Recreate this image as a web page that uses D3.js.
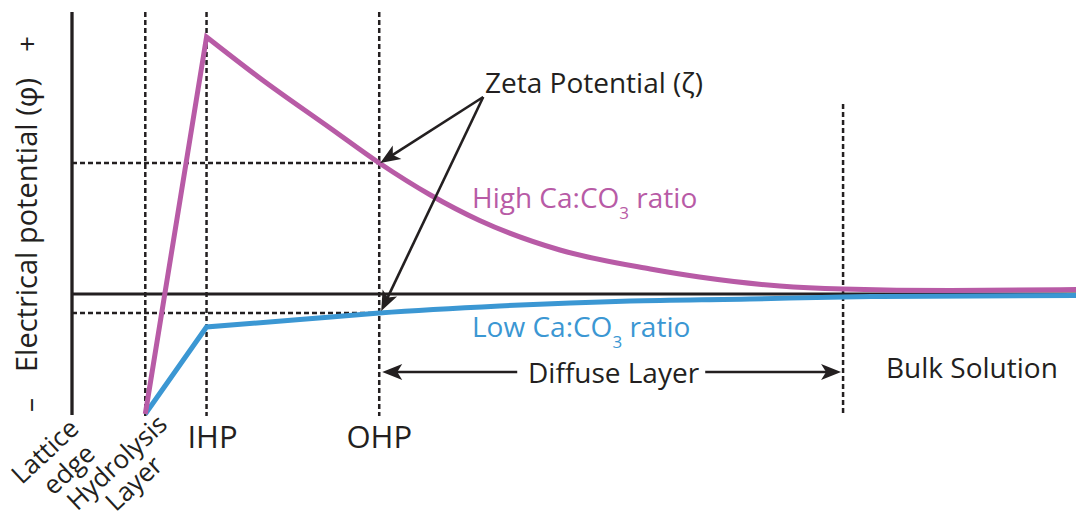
<!DOCTYPE html>
<html>
<head>
<meta charset="utf-8">
<script src="https://cdn.jsdelivr.net/npm/d3@7/dist/d3.min.js"></script>
<style>
  html, body { margin: 0; padding: 0; background: #ffffff; }
  svg { display: block; }
  text { font-family: "Open Sans", "Noto Sans", sans-serif; fill: #231f20; }
</style>
</head>
<body>
<div id="chart"></div>
<script>
// Distance from the crystal surface (arbitrary units) of each layer boundary
const layerNames = ["Lattice edge", "Hydrolysis Layer", "IHP", "OHP", "Diffuse edge"];
const layerPos = [0, 0.73, 1.34, 3.06, 7.68];

// Potential profile, high Ca:CO3 ratio
const highDist = [0.73, 1.34, 1.87, 2.57, 3.06, 3.57, 4.06, 4.86, 5.76, 6.25, 7.05, 7.68, 8.75, 10.0];
const highPot  = [-1.20, 2.57, 2.16, 1.66, 1.31, 0.99, 0.735, 0.44, 0.25, 0.17, 0.08, 0.05, 0.035, 0.045];

// Potential profile, low Ca:CO3 ratio
const lowDist = [0.73, 1.34, 2.27, 3.06, 4.26, 5.56, 6.75, 7.68, 8.05, 10.0];
const lowPot  = [-1.20, -0.33, -0.255, -0.19, -0.12, -0.07, -0.05, -0.03, -0.025, -0.015];

// Zeta potentials read at the OHP
const zetaHigh = 1.31;
const zetaLow = -0.19;

const W = 1076, H = 518;
const INK = "#231f20", MAGENTA = "#b85ba6", BLUE = "#3b97d3";

const x = d3.scaleLinear().domain([0, 10]).range([72, 1076]);
const y = d3.scaleLinear().domain([-1.2, 2.82]).range([414, 12]);

const svg = d3.select("#chart").append("svg")
  .attr("width", W).attr("height", H);

// Dashed guides: layer boundaries
const guideTop = [null, 2.82, 2.82, 2.82, 1.9];
layerPos.forEach((p, i) => {
  if (i === 0) return;
  svg.append("line")
    .attr("x1", x(p)).attr("x2", x(p))
    .attr("y1", y(guideTop[i])).attr("y2", y(-1.2) + 2)
    .attr("stroke", INK).attr("stroke-width", 2.5)
    .attr("stroke-dasharray", "5,3");
});

// Dashed guides: zeta potential levels
[zetaHigh, zetaLow].forEach(v => {
  svg.append("line")
    .attr("x1", x(0)).attr("x2", x(layerPos[3]))
    .attr("y1", y(v)).attr("y2", y(v))
    .attr("stroke", INK).attr("stroke-width", 2.5)
    .attr("stroke-dasharray", "5,3");
});

// Potential axis and zero line
svg.append("line")
  .attr("x1", x(0)).attr("x2", x(0))
  .attr("y1", y(2.82)).attr("y2", y(-1.2) + 1)
  .attr("stroke", INK).attr("stroke-width", 3.3);
svg.append("line")
  .attr("x1", x(0)).attr("x2", x(10))
  .attr("y1", y(0)).attr("y2", y(0))
  .attr("stroke", INK).attr("stroke-width", 3);

// Profiles: straight ramp up to the IHP, smooth decay afterwards
const straight = d3.line().x(d => x(d[0])).y(d => y(d[1]));
const smooth = d3.line().x(d => x(d[0])).y(d => y(d[1])).curve(d3.curveMonotoneX);

function profilePath(dist, pot) {
  const pts = dist.map((d, i) => [d, pot[i]]);
  return straight(pts.slice(0, 2)) + smooth(pts.slice(1)).replace(/^M/, "L");
}

svg.append("path")
  .attr("d", profilePath(lowDist, lowPot))
  .attr("fill", "none").attr("stroke", BLUE).attr("stroke-width", 5)
  .attr("stroke-linejoin", "miter");
svg.append("path")
  .attr("d", profilePath(highDist, highPot))
  .attr("fill", "none").attr("stroke", MAGENTA).attr("stroke-width", 5)
  .attr("stroke-linejoin", "miter").attr("stroke-miterlimit", 10);

// Arrow helper: shaft plus notched filled head
function arrow(x1, y1, x2, y2) {
  const len = 20, half = 8, notch = 5;
  const a = Math.atan2(y2 - y1, x2 - x1);
  const c = Math.cos(a), s = Math.sin(a);
  const bx = x2 - c * (len - notch - 1), by = y2 - s * (len - notch - 1);
  svg.append("line")
    .attr("x1", x1).attr("y1", y1).attr("x2", bx).attr("y2", by)
    .attr("stroke", INK).attr("stroke-width", 2.6);
  const p = (u, v) => [x2 - c * u - s * v, y2 - s * u + c * v];
  const head = [p(0, 0), p(len, -half), p(len - notch, 0), p(len, half)];
  svg.append("path")
    .attr("d", "M" + head.map(q => q.join(",")).join("L") + "Z")
    .attr("fill", INK);
}

// Zeta potential callouts
const zetaX = x(layerPos[3]) + 104, zetaY = 97;
arrow(zetaX, zetaY, x(layerPos[3]) + 1, y(zetaHigh));
arrow(zetaX, zetaY, x(layerPos[3]) + 2, y(zetaLow) - 2);

// Diffuse layer span
arrow(x(layerPos[3]) + 138, 372, x(layerPos[3]) + 3, 372);
arrow(x(layerPos[3]) + 326, 372, x(layerPos[4]) - 2, 372);

// Text labels
const FS = 28;
svg.append("text").attr("x", 485).attr("y", 93).attr("font-size", FS)
  .text("Zeta Potential (\u03b6)");

function ratioLabel(label, tx, ty, colour) {
  const t = svg.append("text").attr("x", tx).attr("y", ty)
    .attr("font-size", FS).style("fill", colour);
  t.append("tspan").text(label + " Ca:CO");
  t.append("tspan").attr("font-size", 17).attr("dy", 11).text("3");
  t.append("tspan").attr("dy", -11).text(" ratio");
}
ratioLabel("High", 472, 208, MAGENTA);
ratioLabel("Low", 472, 337, BLUE);

svg.append("text").attr("x", 528).attr("y", 383).attr("font-size", FS)
  .text("Diffuse Layer");
svg.append("text").attr("x", 886).attr("y", 378).attr("font-size", FS)
  .text("Bulk Solution");

svg.append("text").attr("x", x(layerPos[2]) + 6).attr("y", 448)
  .attr("font-size", 31).attr("text-anchor", "middle").text("IHP");
svg.append("text").attr("x", x(layerPos[3])).attr("y", 448)
  .attr("font-size", 31).attr("text-anchor", "middle").text("OHP");

// Slanted surface labels
const slanted = [
  ["Lattice", 51, 458], ["edge", 75, 476],
  ["Hydrolysis", 123, 469], ["Layer", 140, 490]
];
slanted.forEach(([t, cx, cy]) => {
  svg.append("text")
    .attr("transform", `translate(${cx},${cy}) rotate(-43)`)
    .attr("font-size", 26).attr("text-anchor", "middle").text(t);
});

// Potential axis title with sign markers
svg.append("text")
  .attr("transform", "translate(37,225) rotate(-90)")
  .attr("font-size", 29).attr("text-anchor", "middle")
  .text("Electrical potential (\u03c6)");
svg.append("text")
  .attr("transform", "translate(37,44) rotate(-90)")
  .attr("font-size", FS).attr("text-anchor", "middle")
  .text("+");
svg.append("text")
  .attr("transform", "translate(39,405) rotate(-90)")
  .attr("font-size", FS).attr("text-anchor", "middle")
  .text("\u2013");
</script>
</body>
</html>
